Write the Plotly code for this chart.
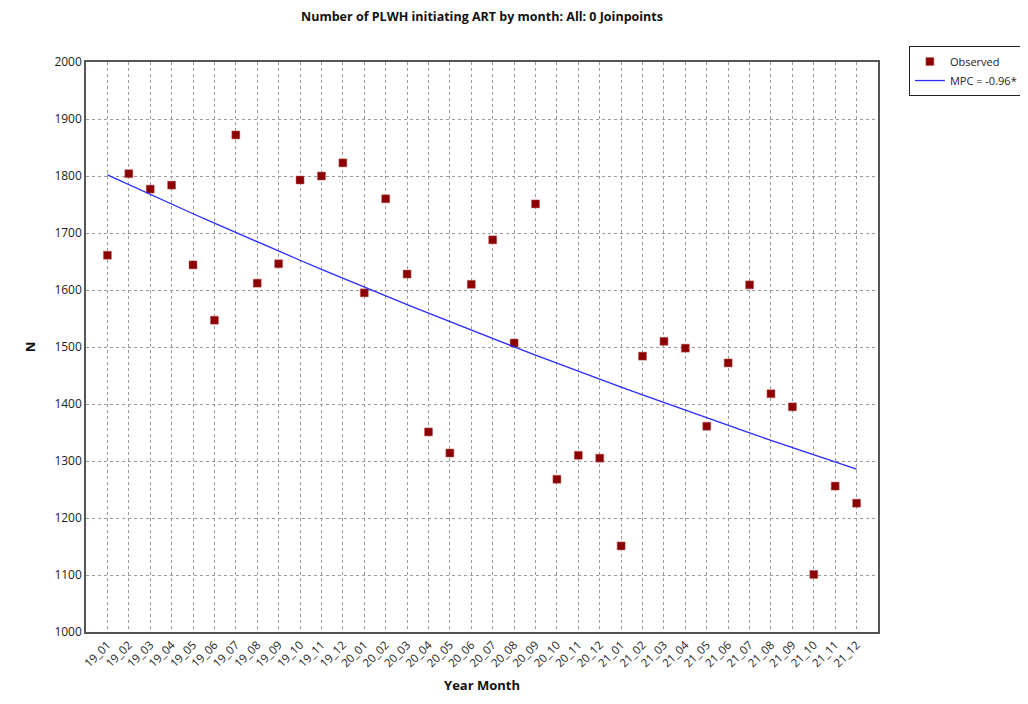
import plotly.graph_objects as go

months = ["19_01","19_02","19_03","19_04","19_05","19_06","19_07","19_08","19_09","19_10","19_11","19_12",
          "20_01","20_02","20_03","20_04","20_05","20_06","20_07","20_08","20_09","20_10","20_11","20_12",
          "21_01","21_02","21_03","21_04","21_05","21_06","21_07","21_08","21_09","21_10","21_11","21_12"]

observed = [1661, 1804, 1777, 1784, 1644, 1547, 1872, 1612, 1646, 1793, 1800, 1823,
            1595, 1760, 1628, 1351, 1314, 1610, 1688, 1507, 1751, 1268, 1310, 1305,
            1151, 1484, 1510, 1498, 1361, 1472, 1609, 1418, 1395, 1101, 1256, 1226]

modeled = [1802.0, 1784.7, 1767.6, 1750.6, 1733.8, 1717.2, 1700.7, 1684.4, 1668.2, 1652.2, 1636.3, 1620.6,
           1605.0, 1589.6, 1574.4, 1559.3, 1544.3, 1529.5, 1514.8, 1500.3, 1485.9, 1471.6, 1457.5, 1443.5,
           1429.6, 1415.9, 1402.3, 1388.8, 1375.5, 1362.3, 1349.2, 1336.3, 1323.4, 1310.7, 1298.1, 1285.7]

y_ticks = [1000, 1100, 1200, 1300, 1400, 1500, 1600, 1700, 1800, 1900, 2000]

FONT = "Open Sans"

fig = go.Figure()
fig.add_trace(go.Scatter(
    x=months, y=observed, mode="markers", name="Observed",
    marker=dict(symbol="square", size=8, color="#8B0000",
                line=dict(color="#C06060", width=0.5)),
))
fig.add_trace(go.Scatter(
    x=months, y=modeled, mode="lines", name="MPC = -0.96*",
    line=dict(color="#2B2BFF", width=1.3),
))

fig.update_layout(
    width=1020, height=696,
    margin=dict(l=78, r=150, t=54, b=72, autoexpand=False),
    paper_bgcolor="white", plot_bgcolor="white",
    font=dict(family=FONT, size=12, color="#222"),
    title=dict(text="<b>Number of PLWH initiating ART by month: All: 0 Joinpoints</b>",
               x=0.5, xref="paper", xanchor="center", y=1.0, yanchor="top",
               pad=dict(t=4, b=0),
               font=dict(size=12.5, color="#111", family=FONT)),
    legend=dict(x=1.039, y=1.028, xanchor="left", yanchor="top",
                bordercolor="#222", borderwidth=1, bgcolor="white",
                font=dict(size=11, color="#222", family=FONT),
                tracegroupgap=0, itemwidth=30),
    showlegend=True,
)

fig.update_xaxes(
    type="category", categoryorder="array", categoryarray=months,
    range=[-1, 36], tickangle=-45, tickfont=dict(size=11.5),
    showgrid=True, gridcolor="#9a9a9a", griddash="dot", gridwidth=1,
    showline=True, linecolor="#555", linewidth=1.5, mirror=True,
    ticks="", zeroline=False,
    title=dict(text="<b>Year Month</b>", font=dict(size=13, color="#111"), standoff=12),
)
fig.update_yaxes(
    range=[1000, 2000], tickvals=y_ticks, tickfont=dict(size=12),
    showgrid=True, gridcolor="#9a9a9a", griddash="dot", gridwidth=1,
    showline=True, linecolor="#555", linewidth=1.5, mirror=True,
    ticks="", zeroline=False,
    title=dict(text="<b>N</b>", font=dict(size=13, color="#111"), standoff=16),
)

fig.write_html("out.html")
